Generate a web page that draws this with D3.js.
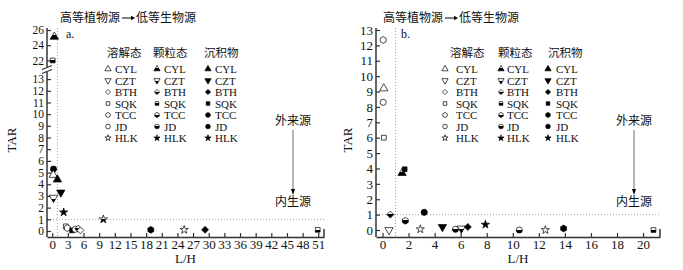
<!DOCTYPE html>
<html>
<head>
<meta charset="utf-8">
<script src="https://cdn.jsdelivr.net/npm/d3@7"></script>
<style>
  body { margin: 0; background: #fff; }
  text { font-family: "Liberation Serif", "Times New Roman", serif; fill: #111; }
  .cjk { font-family: "Noto Sans CJK SC", sans-serif; }
</style>
</head>
<body>
<script>
// sites, phases and tick labels
const sites = ['CYL', 'CZT', 'BTH', 'SQK', 'TCC', 'JD', 'HLK'];
const phases = ['溶解态', '颗粒态', '沉积物'];
const xTicksA = d3.range(0, 52, 3);
const yTicksALow = d3.range(0, 14);
const yTicksAHigh = [22, 24, 26];
const xTicksB = d3.range(0, 21, 2);
const yTicksB = d3.range(0, 14);

// panel a: [phase, site, L/H, TAR]
const pointsA = [
  ['颗粒态', 'CYL', 0.4, 25.1],
  ['颗粒态', 'SQK', 0.1, 22.0],
  ['沉积物', 'JD', 0.25, 5.3],
  ['溶解态', 'CYL', 0.2, 4.8],
  ['沉积物', 'CYL', 1.0, 4.4],
  ['沉积物', 'CZT', 1.65, 3.3],
  ['颗粒态', 'CZT', 0.25, 2.85],
  ['沉积物', 'HLK', 2.2, 1.6],
  ['颗粒态', 'HLK', 9.8, 1.0],
  ['溶解态', 'SQK', 2.6, 0.4],
  ['溶解态', 'TCC', 2.9, 0.25],
  ['沉积物', 'SQK', 3.8, 0.05],
  ['溶解态', 'JD', 4.4, 0.15],
  ['颗粒态', 'BTH', 5.0, 0.2],
  ['溶解态', 'BTH', 5.4, 0.05],
  ['沉积物', 'TCC', 18.9, 0.1],
  ['溶解态', 'HLK', 25.3, 0.1],
  ['沉积物', 'BTH', 29.3, 0.1],
  ['颗粒态', 'SQK', 50.9, 0.1]
];

// panel b
const pointsB = [
  ['溶解态', 'TCC', 0.05, 12.35],
  ['溶解态', 'CYL', 0.1, 9.2],
  ['溶解态', 'JD', 0.05, 8.3],
  ['溶解态', 'SQK', 0.1, 6.0],
  ['颗粒态', 'CYL', 1.5, 3.7],
  ['沉积物', 'SQK', 1.7, 3.95],
  ['颗粒态', 'BTH', 0.6, 1.0],
  ['颗粒态', 'TCC', 1.75, 0.6],
  ['沉积物', 'JD', 3.2, 1.15],
  ['溶解态', 'CZT', 0.5, 0.0],
  ['溶解态', 'HLK', 2.9, 0.05],
  ['沉积物', 'CZT', 4.6, 0.2],
  ['颗粒态', 'JD', 5.6, 0.05],
  ['颗粒态', 'CZT', 6.05, 0.1],
  ['沉积物', 'BTH', 6.55, 0.2],
  ['沉积物', 'HLK', 7.9, 0.35],
  ['颗粒态', 'JD', 10.5, 0.0],
  ['溶解态', 'HLK', 12.5, 0.0],
  ['沉积物', 'TCC', 13.9, 0.1],
  ['颗粒态', 'SQK', 20.8, 0.0]
];

const svg = d3.select('body').append('svg')
  .attr('width', 683).attr('height', 270);

const grad = svg.append('defs').append('linearGradient')
  .attr('id', 'half').attr('x1', 0).attr('y1', 0).attr('x2', 0).attr('y2', 1);
grad.append('stop').attr('offset', '45%').attr('stop-color', '#fff');
grad.append('stop').attr('offset', '45%').attr('stop-color', '#000');

const triDown = {
  draw(ctx, size) {
    const y = -Math.sqrt(size / (Math.sqrt(3) * 3));
    ctx.moveTo(0, -y * 2);
    ctx.lineTo(-Math.sqrt(3) * y, y);
    ctx.lineTo(Math.sqrt(3) * y, y);
    ctx.closePath();
  }
};
const hexagon = {
  draw(ctx, size) {
    const r = Math.sqrt(size / (3 * Math.sqrt(3) / 2));
    for (let i = 0; i < 6; i++) {
      const a = Math.PI / 6 + i * Math.PI / 3;
      if (i === 0) ctx.moveTo(r * Math.cos(a), r * Math.sin(a));
      else ctx.lineTo(r * Math.cos(a), r * Math.sin(a));
    }
    ctx.closePath();
  }
};
// square turned 45 degrees
const rhomb = {
  draw(ctx, size) {
    const r = Math.sqrt(size / 2);
    ctx.moveTo(0, -r);
    ctx.lineTo(r, 0);
    ctx.lineTo(0, r);
    ctx.lineTo(-r, 0);
    ctx.closePath();
  }
};
const symType = {
  CYL: d3.symbolTriangle, CZT: triDown, BTH: rhomb, SQK: d3.symbolSquare,
  TCC: hexagon, JD: d3.symbolCircle, HLK: d3.symbolStar
};
const symScale = { CYL: 1, CZT: 1, BTH: 0.8, SQK: 0.75, TCC: 1, JD: 1, HLK: 0.7 };
const fillOf = { '溶解态': '#fff', '颗粒态': 'url(#half)', '沉积物': '#000' };

function marker(g, phase, site, x, y, size) {
  g.append('path')
    .attr('transform', 'translate(' + x + ',' + y + ')')
    .attr('d', d3.symbol().type(symType[site]).size(size * symScale[site])())
    .attr('fill', fillOf[phase])
    .attr('stroke', '#000')
    .attr('stroke-width', 0.7);
}

function styleAxis(g, fs) {
  g.select('.domain').attr('stroke', '#333').attr('stroke-width', 1.5);
  g.selectAll('.tick line').attr('stroke', '#333').attr('stroke-width', 1.2);
  g.selectAll('.tick text').style('font-size', fs)
    .style('font-family', '"Liberation Serif", serif');
}

function panel(opt) {
  const g = svg.append('g');
  const x = opt.x, y = opt.y;

  // reference lines
  g.append('line')
    .attr('x1', x(1)).attr('x2', x(1))
    .attr('y1', opt.top).attr('y2', opt.axisY)
    .attr('stroke', '#888').attr('stroke-width', 0.8).attr('stroke-dasharray', '1,2');
  g.append('line')
    .attr('x1', x.range()[0]).attr('x2', x.range()[1])
    .attr('y1', y(1)).attr('y2', y(1))
    .attr('stroke', '#888').attr('stroke-width', 0.8).attr('stroke-dasharray', '1,2');

  // axes
  const gx = g.append('g').attr('transform', 'translate(0,' + opt.axisY + ')')
    .call(d3.axisBottom(x).tickValues(opt.xTicks).tickSizeInner(-4).tickSizeOuter(0).tickPadding(3));
  styleAxis(gx, '13px');
  g.append('line')
    .attr('x1', x.range()[1]).attr('x2', x.range()[1])
    .attr('y1', opt.axisY).attr('y2', opt.axisY - 8)
    .attr('stroke', '#333').attr('stroke-width', 1.5);

  const gy = g.append('g').attr('transform', 'translate(' + x.range()[0] + ',0)')
    .call(d3.axisLeft(y).tickValues(opt.yTicks).tickSizeInner(-4).tickSizeOuter(0).tickPadding(3));
  gy.select('.domain').attr('d', 'M0,' + opt.top + 'V' + opt.axisY);
  styleAxis(gy, opt.yFont);

  if (opt.breakY) {
    const x0 = x.range()[0];
    g.append('rect').attr('x', x0 - 2).attr('y', opt.breakY - 3)
      .attr('width', 4).attr('height', 5).attr('fill', '#fff');
    [-2.5, 1.5].forEach(d => {
      g.append('line')
        .attr('x1', x0 - 5).attr('y1', opt.breakY + d + 2)
        .attr('x2', x0 + 5).attr('y2', opt.breakY + d - 2)
        .attr('stroke', '#333').attr('stroke-width', 1.2);
    });
  }

  // points
  opt.points.forEach(p => marker(g, p[0], p[1], x(p[2]), y(p[3]), 30));

  // labels
  g.append('text').attr('x', opt.tarX).attr('y', 140)
    .attr('transform', 'rotate(-90,' + opt.tarX + ',140)')
    .attr('text-anchor', 'middle').style('font-size', '13px').text('TAR');
  g.append('text').attr('x', (x.range()[0] + x.range()[1]) / 2).attr('y', 263)
    .attr('text-anchor', 'middle').style('font-size', '13px').text('L/H');
  g.append('text').attr('x', opt.tagX).attr('y', 38)
    .style('font-size', '12px').text(opt.tag);

  // title with arrow
  const t = opt.titleX;
  g.append('text').attr('class', 'cjk').attr('x', t).attr('y', 22)
    .style('font-size', '12px').text('高等植物源');
  g.append('line').attr('x1', t + 62).attr('x2', t + 72).attr('y1', 18).attr('y2', 18)
    .attr('stroke', '#000').attr('stroke-width', 1);
  g.append('path').attr('d', 'M' + (t + 75) + ',18l-4,-2.2v4.4z').attr('fill', '#000');
  g.append('text').attr('class', 'cjk').attr('x', t + 76).attr('y', 22)
    .style('font-size', '12px').text('低等生物源');

  // source arrow
  const ax = opt.arrowX;
  g.append('text').attr('class', 'cjk').attr('x', ax).attr('y', 125)
    .attr('text-anchor', 'middle').style('font-size', '12px').text('外来源');
  g.append('line').attr('x1', ax).attr('x2', ax).attr('y1', 130).attr('y2', 190)
    .attr('stroke', '#444').attr('stroke-width', 0.8);
  g.append('path').attr('d', 'M' + ax + ',195l-2,-6h4z').attr('fill', '#000');
  g.append('text').attr('class', 'cjk').attr('x', ax).attr('y', 206)
    .attr('text-anchor', 'middle').style('font-size', '12px').text('内生源');

  // legend
  const L = opt.legend;
  phases.forEach((ph, j) => {
    g.append('text').attr('class', 'cjk').attr('x', L.head[j]).attr('y', 57)
      .style('font-size', '11.5px').text(ph);
    sites.forEach((s, i) => {
      const yy = 69 + i * 11.5;
      marker(g, ph, s, L.sym[j], yy, 17);
      g.append('text').attr('x', L.txt[j]).attr('y', yy + 4)
        .style('font-size', '11px').text(s);
    });
  });
}

panel({
  x: d3.scaleLinear().domain([-1, 52.1]).range([47, 324]),
  y: d3.scaleLinear().domain([0, 13.35, 21.4, 26]).range([231, 75, 65, 30]),
  xTicks: xTicksA,
  yTicks: yTicksALow.concat(yTicksAHigh),
  yFont: '11.5px',
  top: 28, axisY: 237, breakY: 70,
  points: pointsA,
  tarX: 16, tag: 'a.', tagX: 66, titleX: 60, arrowX: 293,
  legend: { head: [107, 153, 204], sym: [108, 157, 208], txt: [115, 164, 215] }
});

panel({
  x: d3.scaleLinear().domain([-0.5, 21.3]).range([376, 660]),
  y: d3.scaleLinear().domain([0, 13]).range([230, 30]),
  xTicks: xTicksB,
  yTicks: yTicksB,
  yFont: '13px',
  top: 28, axisY: 237, breakY: null,
  points: pointsB,
  tarX: 352, tag: 'b.', tagX: 401, titleX: 383, arrowX: 634,
  legend: { head: [450, 498, 548], sym: [445, 501, 548], txt: [456, 507, 556] }
});
</script>
</body>
</html>
